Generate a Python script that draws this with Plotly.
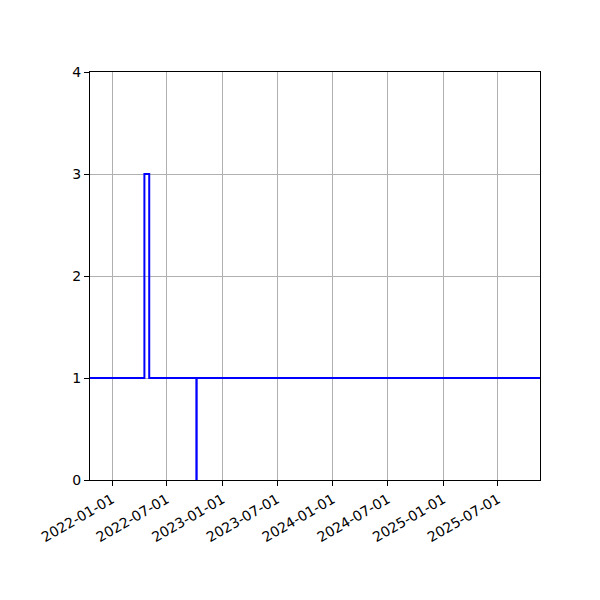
import plotly.graph_objects as go

# step series: value holds from each date until the next one
dates = ["2021-10-20", "2022-04-18", "2022-05-04", "2022-10-07", "2022-10-08", "2025-11-17"]
values = [1, 3, 1, 0, 1, 1]

x_range = ["2021-10-20", "2025-11-17"]
y_ticks = [0, 1, 2, 3, 4]
x_ticks = ["2022-01-01", "2022-07-01", "2023-01-01", "2023-07-01",
           "2024-01-01", "2024-07-01", "2025-01-01", "2025-07-01"]

fig = go.Figure()
fig.add_trace(go.Scatter(
    x=dates, y=values, mode="lines", line_shape="hv",
    line=dict(color="#0000ff", width=2),
))

axis_style = dict(
    showgrid=True, gridcolor="#b0b0b0", gridwidth=0.8,
    showline=True, linecolor="black", linewidth=1, mirror=True,
    ticks="outside", ticklen=5, tickcolor="black", zeroline=False,
    tickfont=dict(family="DejaVu Sans", size=14, color="black"),
)

# page has an 8px body offset, so margins are shifted to compensate
fig.update_layout(
    width=600, height=600,
    margin=dict(l=82, r=68, t=64, b=128),
    paper_bgcolor="white", plot_bgcolor="white",
    showlegend=False,
    xaxis=dict(range=x_range, tickvals=x_ticks, ticktext=x_ticks,
               tickangle=-30, **axis_style),
    yaxis=dict(range=[0, 4], tickvals=y_ticks, **axis_style),
)

fig.write_html("out.html")
